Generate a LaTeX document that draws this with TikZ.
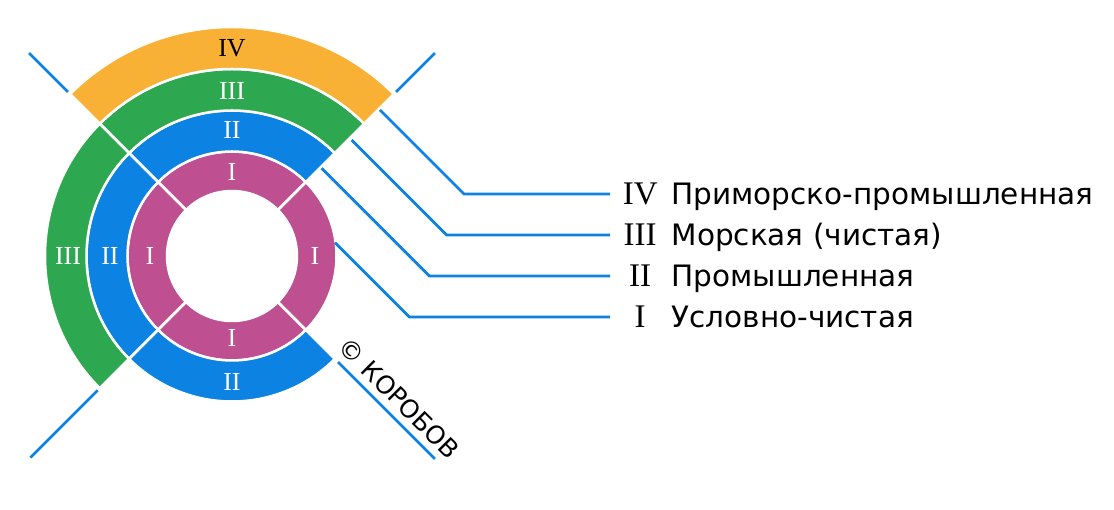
\documentclass[tikz,border=0pt]{standalone}
\usepackage{fontspec}
\setmainfont{Liberation Serif}
\newfontfamily\zonefont{DejaVu Sans}
\definecolor{zoneorange}{RGB}{248,177,52}
\definecolor{zonegreen}{RGB}{45,168,80}
\definecolor{zoneblue}{RGB}{12,131,226}
\definecolor{zonepink}{RGB}{190,80,145}
\usepackage{tikz}
\usetikzlibrary{positioning,calc}

\begin{document}
\begin{tikzpicture}[x=1pt,y=1pt,
    lead/.style={zoneblue,line width=2.8pt},
    ringlabel/.style={white,font=\fontsize{26}{28}\selectfont},
    numeral/.style={font=\fontsize{33}{36}\selectfont,inner sep=0pt,minimum width=60pt,anchor=west},
    zonetext/.style={font=\zonefont\fontsize{29.5}{32}\selectfont,inner sep=0pt,anchor=base west}]
    \useasboundingbox (-232,256) rectangle (882,-254);
    % ring sectors, white gaps come from the outline
    \foreach \col/\a/\b/\ri/\ro in {zonepink/45/135/65/104.5,zonepink/135/225/65/104.5,
        zonepink/225/315/65/104.5,zonepink/315/405/65/104.5,
        zoneblue/45/135/104.5/145.5,zoneblue/135/225/104.5/145.5,zoneblue/225/315/104.5/145.5,
        zonegreen/45/135/145.5/187,zonegreen/135/225/145.5/187,
        zoneorange/45/135/187/229}
        \filldraw[fill=\col,draw=white,line width=2.5pt]
            (\a:\ri) arc[start angle=\a,end angle=\b,radius=\ri]
            -- (\b:\ro) arc[start angle=\b,end angle=\a,radius=\ro] -- cycle;
    % outer diagonal lines
    \draw[lead] (45:232) -- (45:287);
    \draw[lead] (135:232) -- (135:287);
    \draw[lead] (225:190) -- (225:285);
    \draw[lead] (315:150) -- (315:287);
    % labels in the rings
    \node[ringlabel] (pinkT) at (90:84) {I};
    \node[ringlabel] (pinkL) at (180:82) {I};
    \node[ringlabel] (pinkR) at (0:83) {I};
    \node[ringlabel] (pinkB) at (270:82) {I};
    \node[ringlabel] (blueT) at (90:126) {II};
    \node[ringlabel] (blueL) at (180:122) {II};
    \node[ringlabel] (blueB) at (270:126) {II};
    \node[ringlabel] (greenT) at (90:165) {III};
    \node[ringlabel] (greenL) at (180:164) {III};
    \node[ringlabel,black] (orangeT) at (90:208) {IV};
    % legend
    \node[numeral] (numIV) at (378,62) {IV};
    \node[zonetext] (txtIV) at ([xshift=1pt]numIV.base east) {Приморско-промышленная};
    \node[numeral] (numIII) at (378,21) {III};
    \node[zonetext] (txtIII) at ([xshift=1pt]numIII.base east) {Морская (чистая)};
    \node[numeral] (numII) at (378,-20) {II};
    \node[zonetext] (txtII) at ([xshift=1pt]numII.base east) {Промышленная};
    \node[numeral] (numI) at (378,-61) {I};
    \node[zonetext] (txtI) at ([xshift=1pt]numI.base east) {Условно-чистая};
    % leaders
    \coordinate (sIV) at (148,146);
    \coordinate (cIV) at (232,62);
    \coordinate (sIII) at (119.7,116);
    \coordinate (cIII) at (214.7,21);
    \coordinate (sII) at (89.7,87.7);
    \coordinate (cII) at (197.4,-20);
    \coordinate (sI) at (103,13.3);
    \coordinate (cI) at (177.3,-61);
    \draw[lead] (sIV) -- (cIV) -- (numIV.west);
    \draw[lead] (sIII) -- (cIII) -- (numIII.west);
    \draw[lead] (sII) -- (cII) -- (numII.west);
    \draw[lead] (sI) -- (cI) -- (numI.west);
    \node[font=\zonefont\fontsize{25}{27}\selectfont,rotate=-45,inner sep=0pt] (copy) at (167,-142) {© КОРОБОВ};
\end{tikzpicture}
\end{document}
